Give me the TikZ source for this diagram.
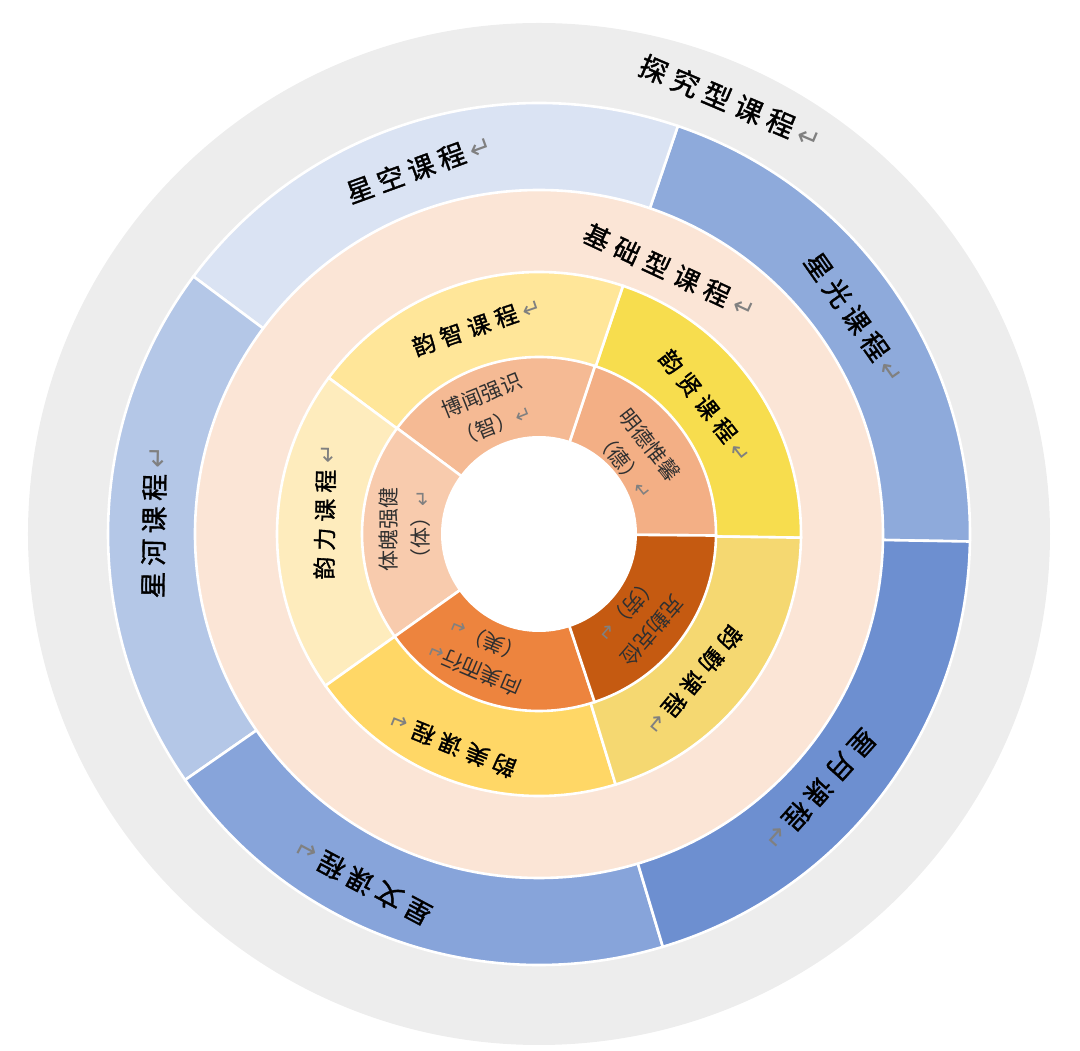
\documentclass[tikz,border=0pt]{standalone}
\usepackage{fontspec}
\newfontfamily\cjk{Noto Sans CJK SC}
\newfontfamily\cjkb[FakeBold=1.3]{Noto Sans CJK SC}
\newfontfamily\dvsans{DejaVu Sans}
\definecolor{ringgray}{HTML}{EDEDED}
\definecolor{xkong}{HTML}{DAE3F3}
\definecolor{xguang}{HTML}{8EAADB}
\definecolor{xyue}{HTML}{6D8FD0}
\definecolor{xwen}{HTML}{87A4DA}
\definecolor{xhe}{HTML}{B4C7E7}
\definecolor{peach}{HTML}{FBE5D6}
\definecolor{yzhi}{HTML}{FFE699}
\definecolor{yxian}{HTML}{F7DD4E}
\definecolor{yqin}{HTML}{F5D871}
\definecolor{ymei}{HTML}{FFD766}
\definecolor{yli}{HTML}{FEECBD}
\definecolor{ibowen}{HTML}{F5BA94}
\definecolor{imingde}{HTML}{F3AF85}
\definecolor{itipo}{HTML}{F8CBAD}
\definecolor{ixiangmei}{HTML}{ED843E}
\definecolor{ikeqin}{HTML}{C55A11}
\definecolor{arrgray}{HTML}{808080}
\definecolor{innertext}{HTML}{303030}
\newlength\labsp
\def\sploop#1{\ifx#1\relax\else#1\kern\labsp\expandafter\sploop\fi}
\newcommand\retarr[1]{{\dvsans\fontsize{#1}{#1}\selectfont\color{arrgray}\raisebox{-0.05em}{↵}}}
\newcommand\sector[4]{\fill[#1,draw=white,line width=2.6pt] (0,0) -- (#2:#4) arc[start angle=#2,end angle=#3,radius=#4] -- cycle;}
\tikzset{
  lab/.style={inner sep=0pt, text=black},
  graylab/.style={lab, font=\cjkb\fontsize{28}{28}\selectfont\setlength\labsp{6.5pt}},
  bluelab/.style={lab, font=\cjkb\fontsize{27}{27}\selectfont\setlength\labsp{5.5pt}},
  peachlab/.style={lab, font=\cjkb\fontsize{26}{26}\selectfont\setlength\labsp{7pt}},
  yellab/.style={lab, font=\cjkb\fontsize{23}{23}\selectfont\setlength\labsp{6pt}},
  innerlab/.style={inner sep=0pt, text=innertext, align=center, font=\cjk\fontsize{21}{32}\selectfont}
}
\begin{document}
\begin{tikzpicture}[x=1pt,y=1pt]
\useasboundingbox (-539,-517) rectangle (541,534);
% outer gray ring
\fill[ringgray] (0,0) circle (511pt);
% blue ring
\sector{xguang}{-1}{71.2}{431pt}
\sector{xkong}{71.2}{143.3}{431pt}
\sector{xhe}{143.3}{214.8}{431pt}
\sector{xwen}{214.8}{286.7}{431pt}
\sector{xyue}{286.7}{359}{431pt}
% peach ring
\fill[peach,draw=white,line width=2.6pt] (0,0) circle (344pt);
% yellow ring
\sector{yxian}{-0.8}{71.3}{262pt}
\sector{yzhi}{71.3}{143.4}{262pt}
\sector{yli}{143.4}{215.4}{262pt}
\sector{ymei}{215.4}{287}{262pt}
\sector{yqin}{287}{359.2}{262pt}
% inner ring
\sector{imingde}{-0.5}{71.6}{177pt}
\sector{ibowen}{71.6}{143.3}{177pt}
\sector{itipo}{143.3}{215.4}{177pt}
\sector{ixiangmei}{215.4}{288.3}{177pt}
\sector{ikeqin}{288.3}{359.5}{177pt}
% hole
\fill[white] (0,0) circle (98pt);
% labels
\node[graylab, rotate=-23] (tanjiu) at (192,432) {\sploop 探究型课程\relax\retarr{28}};
\node[peachlab, rotate=-25] (jichu) at (131,263) {\sploop 基础型课程\relax\retarr{26}};
\node[bluelab, rotate=20] (xingkong) at (-120,366) {\sploop 星空课程\relax\retarr{27}};
\node[bluelab, rotate=-55] (xingguang) at (316,216) {\sploop 星光课程\relax\retarr{27}};
\node[bluelab, rotate=-132] (xingyue) at (281,-256) {\sploop 星月课程\relax\retarr{27}};
\node[bluelab, rotate=152] (xingwen) at (-177,-348) {\sploop 星文课程\relax\retarr{27}};
\node[bluelab, rotate=89] (xinghe) at (-385,12) {\sploop 星河课程\relax\retarr{27}};
\node[yellab, rotate=19] (yunzhi) at (-62,208) {\sploop 韵智课程\relax\retarr{23}};
\node[yellab, rotate=-52] (yunxian) at (167,128) {\sploop 韵贤课程\relax\retarr{23}};
\node[yellab, rotate=-130] (yunqin) at (155,-147) {\sploop 韵勤课程\relax\retarr{23}};
\node[yellab, rotate=158] (yunmei) at (-87,-211) {\sploop 韵美课程\relax\retarr{23}};
\node[yellab, rotate=89] (yunli) at (-214,22) {\sploop 韵力课程\relax\retarr{23}};
\node[innerlab, rotate=22] (bowen) at (-51,124) {博闻强识\\（智）\retarr{20}};
\node[innerlab, rotate=-52] (mingde) at (98,79) {明德惟馨\\（德）\retarr{20}};
\node[innerlab, rotate=-131] (keqin) at (101,-86) {克勤克俭\\（劳）\retarr{20}};
\node[innerlab, rotate=157] (xiangmei) at (-59,-121) {向美而行\retarr{20}\\（美）\retarr{20}};
\node[innerlab, rotate=90] (tipo) at (-134,4) {体魄强健\\（体）\retarr{20}};
\end{tikzpicture}
\end{document}
